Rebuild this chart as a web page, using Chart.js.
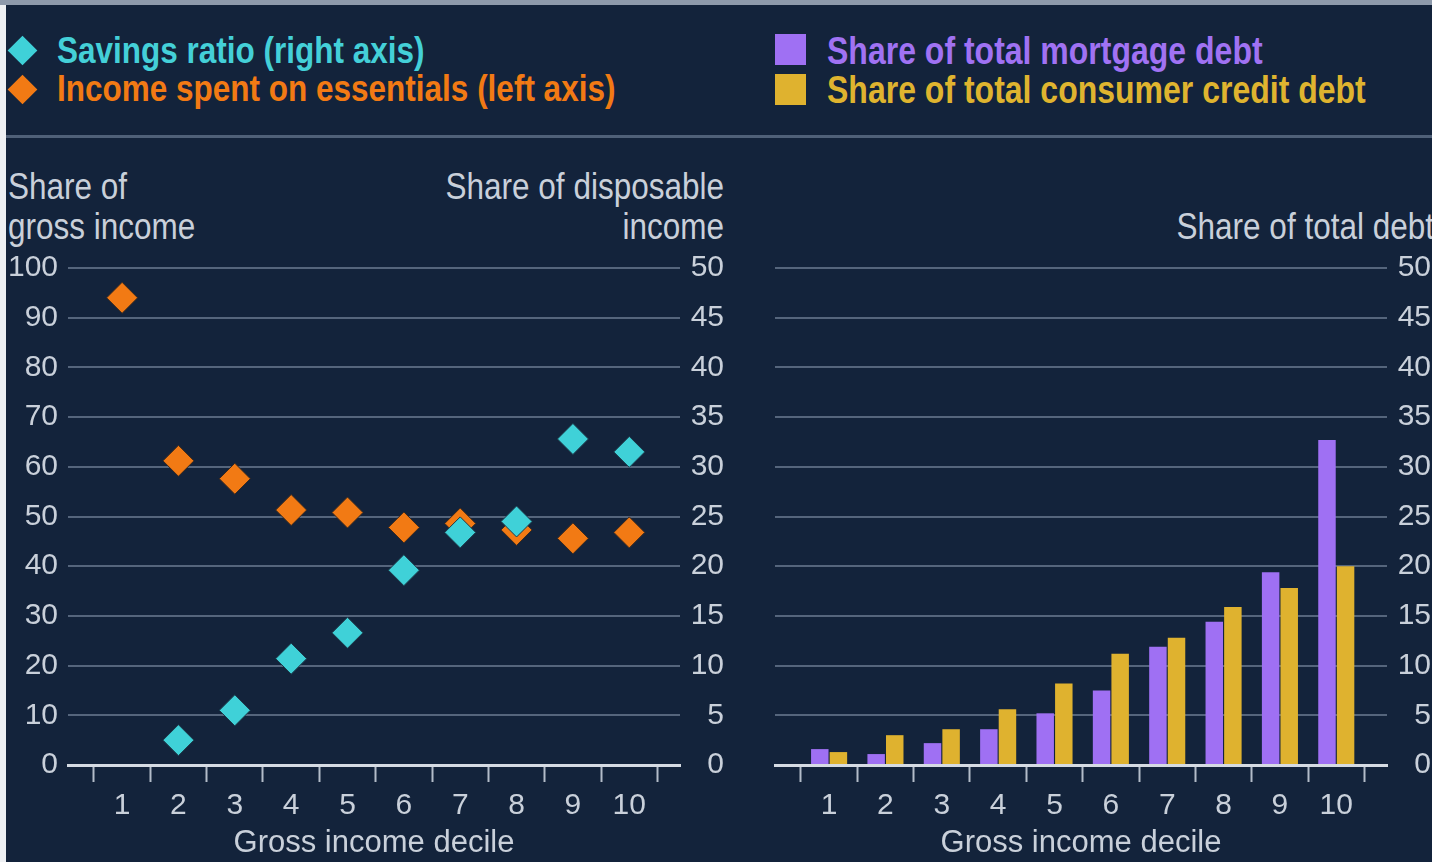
<!DOCTYPE html>
<html>
<head>
<meta charset="utf-8">
<script src="https://cdn.jsdelivr.net/npm/chart.js@4.4.1/dist/chart.umd.min.js"></script>
<style>
  html, body { margin: 0; padding: 0; width: 1432px; height: 862px; overflow: hidden; background: #eef0f3; }
  #panel { position: absolute; left: 6px; top: 0; width: 1426px; height: 862px; background: #13233b; }
  #topline { position: absolute; left: 0; top: 0; width: 1432px; height: 5px; background: #8e9aab; }
  #sep { position: absolute; left: 6px; top: 135px; width: 1426px; height: 3px; background: #4f6078; }
  canvas { position: absolute; }
  .t { position: absolute; white-space: nowrap; font-family: "Liberation Sans", Arial, sans-serif; line-height: 1; }
  .leg { font-weight: bold; font-size: 32px; }
  .ax { font-size: 31.5px; color: #c9d0da; }
  .dia { position: absolute; width: 21px; height: 21px; transform: rotate(45deg); }
  .sq { position: absolute; }
</style>
</head>
<body>
<div id="panel"></div>
<div id="topline"></div>
<div id="sep"></div>

<!-- legends -->
<div class="dia" style="left:11.5px; top:39.5px; background:#3fd1d8;"></div>
<div class="dia" style="left:11.5px; top:78.5px; background:#f27a14;"></div>
<div class="t leg" id="legSav" style="color:#44d0d8; font-size:31.5px;">Savings ratio (right axis)</div>
<div class="t leg" id="legEss" style="color:#f27a14; font-size:31.5px;">Income spent on essentials (left axis)</div>
<div class="sq" style="left:775px; top:34px; width:31px; height:31px; background:#9f70f3;"></div>
<div class="sq" style="left:775px; top:74px; width:31px; height:31px; background:#dfb22f;"></div>
<div class="t leg" id="legMort" style="color:#a072f3;">Share of total mortgage debt</div>
<div class="t leg" id="legCred" style="color:#dfb42f;">Share of total consumer credit debt</div>

<!-- axis titles -->
<div class="t ax" id="tl1">Share of</div>
<div class="t ax" id="tl2">gross income</div>
<div class="t ax" id="tr1">Share of disposable</div>
<div class="t ax" id="tr2">income</div>
<div class="t ax" id="tb1">Share of total debt</div>

<canvas id="left" width="740" height="622" style="left:0px; top:240px;"></canvas>
<canvas id="right" width="687" height="622" style="left:745px; top:240px;"></canvas>

<script>
// ---------- data ----------
const deciles = [1, 2, 3, 4, 5, 6, 7, 8, 9, 10];
const savingsRatio = [null, 2.5, 5.5, 10.7, 13.3, 19.6, 23.4, 24.5, 32.8, 31.5];      // right axis, % of disposable income
const essentialsShare = [94, 61.2, 57.6, 51.3, 50.8, 47.8, 48.6, 47.3, 45.6, 46.8];   // left axis, % of gross income
const mortgageShare = [1.6, 1.1, 2.2, 3.6, 5.2, 7.5, 11.9, 14.4, 19.4, 32.7];         // % of total debt
const creditShare = [1.3, 3.0, 3.6, 5.6, 8.2, 11.2, 12.8, 15.9, 17.8, 20.0];          // % of total debt
const leftTicksY = [0, 10, 20, 30, 40, 50, 60, 70, 80, 90, 100];
const rightTicksY = [0, 5, 10, 15, 20, 25, 30, 35, 40, 45, 50];

// ---------- text placement helpers ----------
function placeText(id, x, capCenterY, fs, scaleY, alignRight) {
  const el = document.getElementById(id);
  const off = 0.4875 * fs;
  el.style.top = (capCenterY - off) + 'px';
  el.style.transformOrigin = '0 ' + off + 'px';
  el.style.transform = 'scaleY(' + scaleY + ')';
  if (alignRight) { el.style.right = (1432 - x) + 'px'; } else { el.style.left = x + 'px'; }
}
placeText('legSav', 57, 50, 31.5, 1.2, false);
placeText('legEss', 57, 88, 31.5, 1.2, false);
placeText('legMort', 827, 50.5, 32, 1.2, false);
placeText('legCred', 827, 89.5, 32, 1.2, false);
placeText('tl1', 8, 186, 31.5, 1.15, false);
placeText('tl2', 8, 226, 31.5, 1.15, false);
placeText('tr1', 724, 186, 31.5, 1.15, true);
placeText('tr2', 724, 226, 31.5, 1.15, true);
placeText('tb1', 1434, 226, 31.5, 1.15, true);

// ---------- shared styles ----------
Chart.defaults.font.family = '"Liberation Sans", Arial, sans-serif';
const TXT = '#c9d0da';
const GRID = '#55657c';
const XMIN = 0.04, XMAX = 10.9;

function xAxis() {
  return {
    type: 'linear',
    min: XMIN, max: XMAX,
    offset: false,
    afterBuildTicks: (s) => {
      const arr = [];
      for (let v = 0.5; v <= 10.5; v += 0.5) arr.push({ value: v });
      s.ticks = arr;
    },
    afterFit: (s) => { s.height = 97; },
    ticks: {
      autoSkip: false, maxRotation: 0, minRotation: 0,
      color: TXT, font: { size: 30 }, padding: 6,
      callback: (v) => Number.isInteger(v) ? String(v) : ''
    },
    grid: {
      drawOnChartArea: false, drawTicks: true, offset: false,
      tickLength: 17, tickWidth: 2,
      tickColor: (ctx) => (ctx.tick && Number.isInteger(ctx.tick.value)) ? 'rgba(0,0,0,0)' : '#b3bcc9'
    },
    border: { display: true, color: '#d5dbe3', width: 3 },
    title: {
      display: true, text: 'Gross income decile', color: TXT,
      font: { size: 31 }, padding: { top: 4, bottom: 0 }
    }
  };
}

function yAxis(position, max, tickVals, showGrid, width, crossAlign) {
  return {
    type: 'linear', position: position, min: 0, max: max,
    afterBuildTicks: (s) => { s.ticks = tickVals.map(v => ({ value: v })); },
    afterFit: (s) => { s.width = width; },
    ticks: { color: TXT, font: { size: 30 }, padding: 10, crossAlign: crossAlign },
    grid: { drawOnChartArea: showGrid, drawTicks: false, color: GRID, lineWidth: 2 },
    border: { display: false }
  };
}

// ---------- left chart: diamonds ----------
new Chart(document.getElementById('left'), {
  type: 'scatter',
  data: {
    datasets: [
      {
        label: 'Savings ratio (right axis)',
        data: deciles.map((d, i) => ({ x: d, y: savingsRatio[i] })),
        yAxisID: 'y1',
        pointStyle: 'rectRot', pointRadius: 15.5, pointHoverRadius: 15.5,
        backgroundColor: '#3fd1d8', borderColor: '#1d3a4a', borderWidth: 1
      },
      {
        label: 'Income spent on essentials (left axis)',
        data: deciles.map((d, i) => ({ x: d, y: essentialsShare[i] })),
        yAxisID: 'y',
        pointStyle: 'rectRot', pointRadius: 15.5, pointHoverRadius: 15.5,
        backgroundColor: '#f27a14', borderColor: '#3a2a20', borderWidth: 1
      }
    ]
  },
  options: {
    responsive: false, animation: false,
    layout: { padding: { left: 8, right: 16, top: 25, bottom: 0 } },
    plugins: { legend: { display: false }, tooltip: { enabled: false } },
    scales: {
      x: xAxis(),
      y: yAxis('left', 100, leftTicksY, true, 60, 'near'),
      y1: yAxis('right', 50, rightTicksY, false, 44, 'far')
    }
  }
});

// ---------- right chart: bars ----------
// (the bar ruler includes the half-step tick marks, so the percentages are relative to half a decile)
new Chart(document.getElementById('right'), {
  type: 'bar',
  data: {
    datasets: [
      {
        label: 'Share of total mortgage debt',
        data: deciles.map((d, i) => ({ x: d, y: mortgageShare[i] })),
        backgroundColor: '#9f70f3', borderWidth: 0,
        categoryPercentage: 1.32, barPercentage: 0.94
      },
      {
        label: 'Share of total consumer credit debt',
        data: deciles.map((d, i) => ({ x: d, y: creditShare[i] })),
        backgroundColor: '#dfb22f', borderWidth: 0,
        categoryPercentage: 1.32, barPercentage: 0.94
      }
    ]
  },
  options: {
    responsive: false, animation: false,
    layout: { padding: { left: 30, right: 1, top: 25, bottom: 0 } },
    plugins: { legend: { display: false }, tooltip: { enabled: false } },
    scales: {
      x: xAxis(),
      y: yAxis('right', 50, rightTicksY, true, 44, 'far')
    }
  }
});
</script>
</body>
</html>
